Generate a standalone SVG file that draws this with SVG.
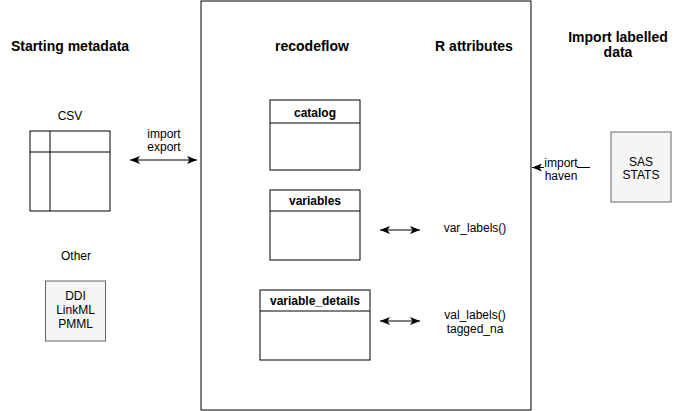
<svg xmlns="http://www.w3.org/2000/svg" width="685" height="411" viewBox="0 0 685 411">
<defs>
<marker id="arr" viewBox="0 0 10 8" refX="10" refY="4" markerWidth="10" markerHeight="8" markerUnits="userSpaceOnUse" orient="auto-start-reverse">
<path d="M0,0 L10,4 L0,8 L2.5,4 Z" fill="#000"/>
</marker>
</defs>
<style>
text{font-family:"Liberation Sans",Arial,Helvetica,sans-serif;fill:#000;text-anchor:middle}
.t{font-size:12px}
.h{font-size:14px;font-weight:bold}
.b{font-size:12px;font-weight:bold}
.box{fill:#fff;stroke:#000;stroke-width:1}
.grey{fill:#f5f5f5;stroke:#666;stroke-width:1}
.ln{fill:none;stroke:#000;stroke-width:1}
</style>
<rect width="685" height="411" fill="#fff"/>
<g id="recodeflow-container">
<rect class="box" x="201" y="1" width="330" height="409"/>
<text class="h" x="312" y="51">recodeflow</text>
<text class="h" x="474" y="51">R attributes</text>
</g>
<g id="title-starting">
<text class="h" x="70" y="51">Starting metadata</text>
</g>
<g id="title-import">
<text class="h" x="618" y="42">Import labelled</text>
<text class="h" x="618" y="57">data</text>
</g>
<g id="csv">
<text class="t" x="70" y="120">CSV</text>
<rect class="box" x="30" y="131" width="80" height="80"/>
<line class="ln" x1="30" y1="152" x2="110" y2="152"/>
<line class="ln" x1="50" y1="131" x2="50" y2="211"/>
</g>
<g id="other">
<text class="t" x="76" y="260">Other</text>
<rect class="grey" x="45.5" y="281" width="60" height="60"/>
<text class="t" x="75.5" y="300">DDI</text>
<text class="t" x="75.5" y="314">LinkML</text>
<text class="t" x="75.5" y="328">PMML</text>
</g>
<g id="catalog">
<rect class="box" x="270" y="100" width="90" height="70"/>
<line class="ln" x1="270" y1="123" x2="360" y2="123"/>
<text class="b" x="315" y="117">catalog</text>
</g>
<g id="variables">
<rect class="box" x="270" y="190" width="90" height="70"/>
<line class="ln" x1="270" y1="211" x2="360" y2="211"/>
<text class="b" x="315" y="205">variables</text>
</g>
<g id="variable_details">
<rect class="box" x="260" y="290" width="110" height="70"/>
<line class="ln" x1="260" y1="311" x2="370" y2="311"/>
<text class="b" x="315" y="305">variable_details</text>
</g>
<g id="sas">
<rect class="grey" x="611" y="132" width="60" height="70"/>
<text class="t" x="641" y="166">SAS</text>
<text class="t" x="641" y="179">STATS</text>
</g>
<g id="r-labels">
<text class="t" x="475" y="232">var_labels()</text>
<text class="t" x="475" y="319">val_labels()</text>
<text class="t" x="475" y="333">tagged_na</text>
</g>
<g id="connectors">
<line class="ln" x1="130" y1="160" x2="197" y2="160" marker-start="url(#arr)" marker-end="url(#arr)"/>
<text class="t" x="164" y="138">import</text>
<text class="t" x="164" y="151">export</text>
<line class="ln" x1="380" y1="230" x2="420" y2="230" marker-start="url(#arr)" marker-end="url(#arr)"/>
<line class="ln" x1="380" y1="321" x2="420" y2="321" marker-start="url(#arr)" marker-end="url(#arr)"/>
<line class="ln" x1="590" y1="167.5" x2="532" y2="167.5" marker-end="url(#arr)"/>
<rect x="544" y="158" width="33" height="24" fill="#fff"/>
<text class="t" x="561" y="167">import</text>
<text class="t" x="561" y="180">haven</text>
</g>
</svg>
